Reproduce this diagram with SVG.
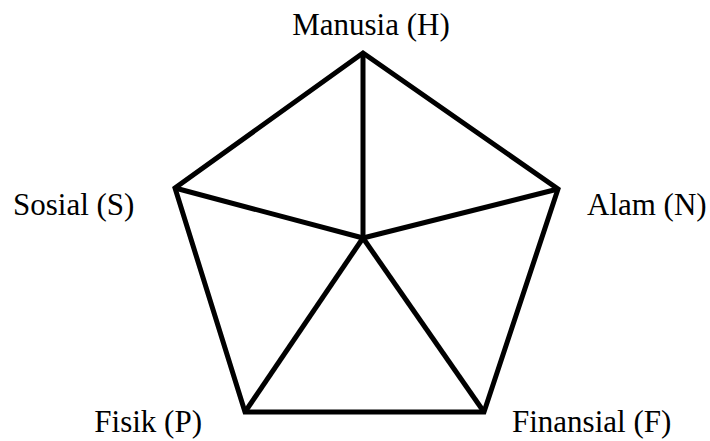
<svg xmlns="http://www.w3.org/2000/svg" width="710" height="441" viewBox="0 0 710 441">
<style>
.edge{stroke:#000;stroke-width:5;fill:none;stroke-linejoin:miter;stroke-linecap:butt}
.lbl{font-family:"Liberation Serif","Times New Roman",serif;font-size:31px;fill:#000}
</style>
<rect width="710" height="441" fill="#fff"/>
<g id="connectors">
<polygon class="edge" points="363,53 558,189 484,412 245,412 175,188"/>
<line class="edge" x1="363" y1="53" x2="363" y2="238"/>
<line class="edge" x1="175" y1="188" x2="363" y2="238"/>
<line class="edge" x1="558" y1="189" x2="363" y2="238"/>
<line class="edge" x1="245" y1="412" x2="363" y2="238"/>
<line class="edge" x1="484" y1="412" x2="363" y2="238"/>
</g>
<g id="node-H"><text class="lbl" x="371" y="35" text-anchor="middle">Manusia (H)</text></g>
<g id="node-N"><text class="lbl" x="587" y="215">Alam (N)</text></g>
<g id="node-F"><text class="lbl" x="512" y="432">Finansial (F)</text></g>
<g id="node-P"><text class="lbl" x="202" y="432" text-anchor="end">Fisik (P)</text></g>
<g id="node-S"><text class="lbl" x="13" y="215">Sosial (S)</text></g>
</svg>
